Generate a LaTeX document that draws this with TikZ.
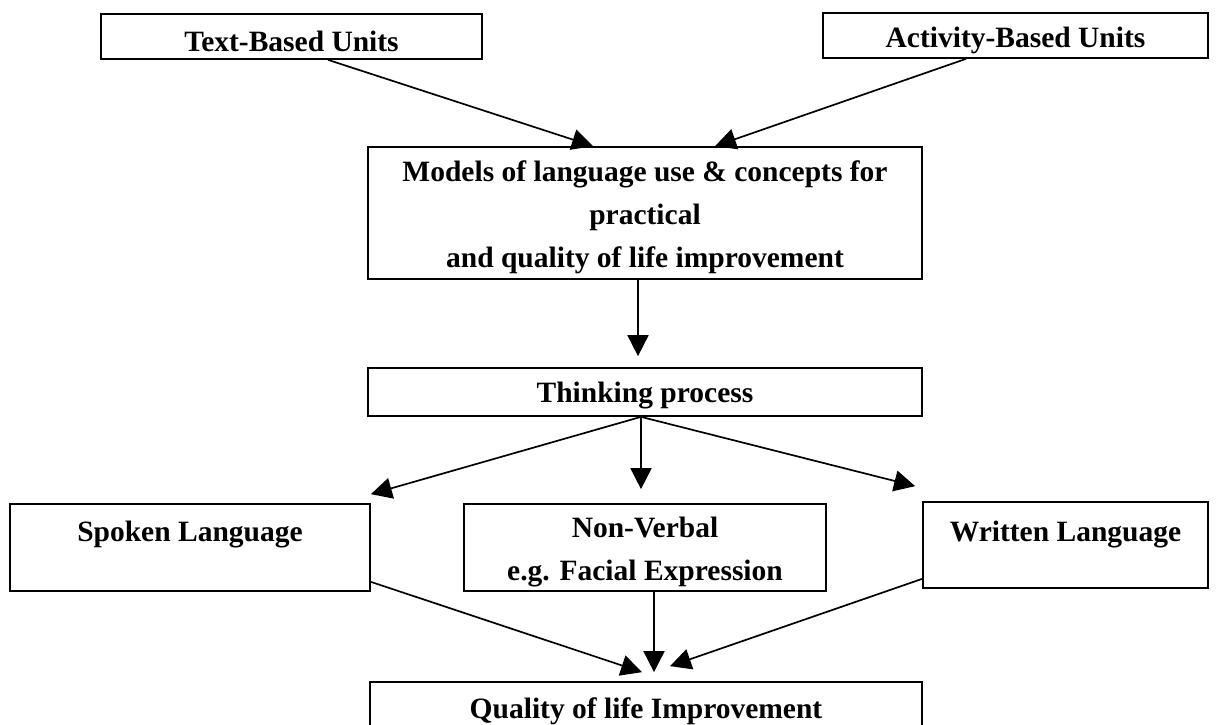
\documentclass[tikz,border=0pt]{standalone}
\usepackage{fontspec}
\setmainfont{Liberation Serif}
\usetikzlibrary{arrows.meta}

\begin{document}
\begin{tikzpicture}[
    x=1pt, y=-1pt,
    box/.style={draw, line width=1.7pt, inner sep=0pt},
    lbl/.style={align=center, font=\fontsize{29.5}{43}\selectfont\bfseries},
    flow/.style={-{Triangle[length=21pt, width=21pt]}, line width=1.7pt}
  ]
  \useasboundingbox (0,0) rectangle (1219,724);
  \clip (0,0) rectangle (1219,724);

  % Units
  \node[box, minimum width=381pt, minimum height=45pt] (tbu) at (291.5,36.5) {};
  \node[lbl] at (tbu.center) [yshift=-5pt] {Text-Based Units};
  \node[box, minimum width=385pt, minimum height=45pt] (abu) at (1015.5,35.5) {};
  \node[lbl] at (abu.center) [yshift=-5pt] {Activity-Based Units};

  % Models and thinking
  \node[box, minimum width=554pt, minimum height=132pt] (models) at (645,213) {};
  \node[lbl] at (models.center) [yshift=-4pt]
    {Models of language use \& concepts for\\ practical\\ and quality of life improvement};
  \node[box, minimum width=554pt, minimum height=48pt] (think) at (645,392) {};
  \node[lbl] at (think.center) [yshift=-4pt] {Thinking process};

  % Ways of expression
  \node[box, minimum width=360pt, minimum height=87pt] (spoken) at (190,547.5) {};
  \node[lbl] at (spoken.north) [yshift=-31pt] {Spoken Language};
  \node[box, minimum width=362pt, minimum height=87pt] (nonverbal) at (645,547.5) {};
  \node[lbl] at (nonverbal.center) [yshift=-5pt] {Non-Verbal\\ e.g. Facial Expression};
  \node[box, minimum width=285pt, minimum height=86pt] (written) at (1065.5,545) {};
  \node[lbl] at (written.north) [yshift=-33pt] {Written Language};

  % Result
  \node[box, minimum width=552pt, minimum height=56pt] (quality) at (646,710) {};
  \node[lbl] at (quality.north) [yshift=-30pt] {Quality of life Improvement};

  % Arrows
  \draw[flow] ([xshift=36.5pt]tbu.south) -- ([xshift=-52pt]models.north);
  \draw[flow] ([xshift=-49.5pt]abu.south) -- ([xshift=70pt]models.north);
  \draw[flow] ([xshift=-7pt]models.south) -- ([xshift=-7pt, yshift=11pt]think.north);
  \draw[flow] ([xshift=-4pt]think.south) -- ([yshift=9pt]spoken.north east);
  \draw[flow] ([xshift=-4pt]think.south) -- ([xshift=-4pt, yshift=14pt]nonverbal.north);
  \draw[flow] ([xshift=-4pt]think.south) -- ([xshift=-7pt, yshift=15pt]written.north west);
  \draw[flow] ([yshift=10pt]spoken.south east) -- ([xshift=-4pt, yshift=9pt]quality.north);
  \draw[flow] ([xshift=9pt]nonverbal.south) -- ([xshift=8pt, yshift=9pt]quality.north);
  \draw[flow] ([yshift=10pt]written.south west) -- ([xshift=24pt, yshift=15pt]quality.north);

\end{tikzpicture}
\end{document}
